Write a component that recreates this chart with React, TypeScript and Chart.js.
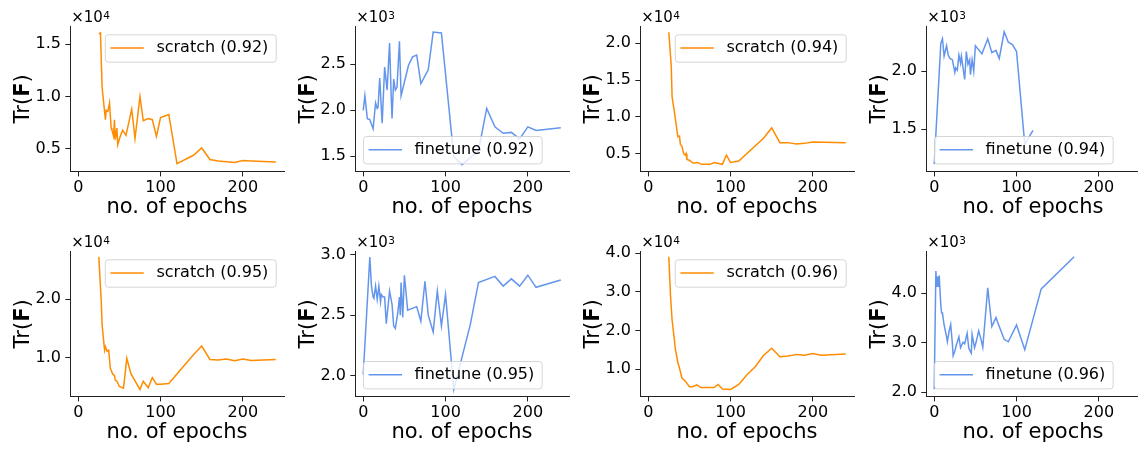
import React, { useEffect, useRef } from "react";
import { Chart, registerables } from "chart.js";

Chart.register(...registerables);

const FONT = "'DejaVu Sans', 'Liberation Sans', sans-serif";
const ORANGE = "#FF8C00";
const BLUE = "#6495ED";

// shared x-axis ticks (epochs)
const xTickValues = [0, 100, 200];

// ---- sparsity 0.92 ----
const scratch092Epochs = [25, 27, 29, 33, 34, 36, 38, 40, 41, 43, 44, 45, 47, 48, 51, 54, 58, 65, 69, 75, 79, 85, 90, 95, 100, 110, 120, 140, 150, 160, 170, 190, 200, 210, 240];
const scratch092Trace = [16000, 16100, 10900, 7800, 8700, 8600, 9400, 7000, 6800, 6200, 7800, 5900, 7000, 5400, 6200, 6800, 6300, 8800, 6000, 10000, 7700, 7900, 7800, 6200, 8000, 8300, 3600, 4400, 5100, 4000, 3850, 3700, 3900, 3850, 3750];
const finetune092Epochs = [0, 2, 5, 8, 12, 15, 17, 18, 20, 23, 26, 29, 32, 34, 35, 37, 39, 41, 44, 46, 55, 60, 65, 70, 79, 85, 95, 110, 120, 140, 150, 160, 170, 180, 190, 200, 210, 240];
const finetune092Trace = [2000, 2160, 1910, 1900, 1800, 2080, 2020, 2030, 2350, 1860, 2470, 2220, 2730, 2150, 1910, 2340, 2220, 2250, 2750, 2160, 2490, 2580, 2600, 2290, 2440, 2850, 2840, 1500, 1410, 1560, 2020, 1820, 1750, 1760, 1690, 1820, 1780, 1810];

// ---- sparsity 0.94 ----
const scratch094Epochs = [25, 28, 29, 32, 34, 36, 38, 39, 41, 43, 45, 46, 47, 50, 55, 60, 65, 75, 80, 90, 95, 100, 110, 140, 150, 160, 170, 180, 190, 200, 240];
const scratch094Trace = [21500, 16800, 12700, 10500, 8900, 7300, 7400, 6300, 6000, 5000, 4800, 5000, 4200, 4100, 3700, 3800, 3550, 3550, 3800, 3550, 4800, 3800, 4000, 7100, 8500, 6500, 6500, 6300, 6400, 6600, 6500];
const finetune094Epochs = [0, 8, 10, 12, 15, 17, 19, 22, 25, 26, 28, 30, 32, 33, 35, 37, 39, 41, 43, 44, 46, 48, 50, 58, 65, 70, 75, 79, 85, 90, 95, 100, 110, 120];
const finetune094Trace = [1200, 2240, 2280, 2130, 2220, 2140, 2110, 2100, 1990, 2030, 2010, 2140, 2070, 2130, 2030, 1930, 2170, 2060, 2100, 1970, 2100, 2000, 2220, 2150, 2280, 2160, 2180, 2110, 2340, 2250, 2230, 2170, 1370, 1490];

// ---- sparsity 0.95 ----
const scratch095Epochs = [25, 28, 29, 32, 33, 35, 37, 39, 42, 44, 45, 47, 50, 55, 59, 64, 75, 79, 85, 90, 95, 100, 110, 140, 150, 160, 170, 180, 190, 200, 210, 240];
const scratch095Trace = [27200, 19500, 15600, 11300, 11900, 11100, 11300, 8200, 7200, 7000, 6200, 6000, 5100, 4800, 9900, 7300, 4600, 6000, 4900, 6600, 5500, 5500, 5600, 10500, 12000, 9700, 9600, 9800, 9500, 9800, 9550, 9700];
const finetune095Epochs = [0, 8, 10, 12, 13, 15, 17, 19, 21, 22, 24, 26, 28, 32, 35, 37, 39, 42, 44, 45, 46, 48, 50, 54, 65, 70, 75, 79, 85, 90, 95, 100, 110, 130, 140, 160, 170, 180, 190, 200, 210, 240];
const finetune095Trace = [2010, 2980, 2740, 2650, 2640, 2740, 2630, 2740, 2610, 2670, 2650, 2650, 2430, 2700, 2590, 2410, 2390, 2520, 2650, 2500, 2770, 2480, 2830, 2540, 2570, 2450, 2780, 2500, 2360, 2700, 2410, 2670, 1885, 2420, 2770, 2820, 2740, 2800, 2740, 2830, 2730, 2790];

// ---- sparsity 0.96 ----
const scratch096Epochs = [25, 27, 29, 32, 33, 36, 38, 41, 43, 46, 50, 54, 59, 64, 75, 80, 85, 90, 100, 110, 120, 130, 140, 150, 160, 170, 180, 190, 200, 210, 240];
const scratch096Trace = [39100, 29200, 22700, 17100, 15100, 11700, 10200, 7600, 7300, 6600, 5400, 5400, 5900, 5200, 5200, 5200, 6000, 4800, 4700, 6000, 8500, 10600, 13500, 15400, 13200, 13400, 13800, 13600, 14000, 13600, 13900];
const finetune096Epochs = [0, 2, 3, 4, 5, 6, 8, 9, 10, 12, 15, 16, 18, 20, 22, 23, 25, 27, 30, 32, 35, 37, 40, 42, 45, 46, 49, 51, 54, 57, 59, 65, 70, 75, 79, 85, 90, 100, 110, 130, 170];
const finetune096Trace = [2060, 4450, 4130, 4340, 4130, 4360, 3760, 3600, 3600, 3360, 3120, 3020, 3230, 3370, 2990, 2740, 2830, 2960, 3120, 2900, 3010, 2980, 3190, 2890, 2790, 3170, 2900, 3020, 3240, 3060, 2910, 4110, 3330, 3510, 3330, 3070, 3020, 3360, 2860, 4090, 4740];

// y-axis ticks per panel
const yTicks092s = [5000, 10000, 15000];
const yTicks092f = [1500, 2000, 2500];
const yTicks094s = [5000, 10000, 15000, 20000];
const yTicks094f = [1500, 2000];
const yTicks095s = [10000, 20000];
const yTicks095f = [2000, 2500, 3000];
const yTicks096s = [10000, 20000, 30000, 40000];
const yTicks096f = [2000, 3000, 4000];

type PanelCfg = {
  label: string;
  xs: number[];
  ys: number[];
  color: string;
  legendLoc: "ur" | "ll";
  yMin: number;
  yMax: number;
  yTicks: number[];
  exp: number;
  col: number;
  row: number;
};

const panels: PanelCfg[] = [
  { label: "scratch (0.92)", xs: scratch092Epochs, ys: scratch092Trace, color: ORANGE, legendLoc: "ur", yMin: 2830, yMax: 16750, yTicks: yTicks092s, exp: 4, col: 0, row: 0 },
  { label: "finetune (0.92)", xs: finetune092Epochs, ys: finetune092Trace, color: BLUE, legendLoc: "ll", yMin: 1333, yMax: 2916, yTicks: yTicks092f, exp: 3, col: 1, row: 0 },
  { label: "scratch (0.94)", xs: scratch094Epochs, ys: scratch094Trace, color: ORANGE, legendLoc: "ur", yMin: 2550, yMax: 22350, yTicks: yTicks094s, exp: 4, col: 2, row: 0 },
  { label: "finetune (0.94)", xs: finetune094Epochs, ys: finetune094Trace, color: BLUE, legendLoc: "ll", yMin: 1135, yMax: 2390, yTicks: yTicks094f, exp: 3, col: 3, row: 0 },
  { label: "scratch (0.95)", xs: scratch095Epochs, ys: scratch095Trace, color: ORANGE, legendLoc: "ur", yMin: 3360, yMax: 28200, yTicks: yTicks095s, exp: 4, col: 0, row: 1 },
  { label: "finetune (0.95)", xs: finetune095Epochs, ys: finetune095Trace, color: BLUE, legendLoc: "ll", yMin: 1826, yMax: 3030, yTicks: yTicks095f, exp: 3, col: 1, row: 1 },
  { label: "scratch (0.96)", xs: scratch096Epochs, ys: scratch096Trace, color: ORANGE, legendLoc: "ur", yMin: 2830, yMax: 40600, yTicks: yTicks096s, exp: 4, col: 2, row: 1 },
  { label: "finetune (0.96)", xs: finetune096Epochs, ys: finetune096Trace, color: BLUE, legendLoc: "ll", yMin: 1910, yMax: 4856, yTicks: yTicks096f, exp: 3, col: 3, row: 1 },
];

const COL_LEFT = [0, 285, 570, 856];
const ROW_TOP = [0, 225];
const CANVAS_W = 285;
const CANVAS_H = 225;

const decorPlugin = {
  id: "decor",
  afterDatasetsDraw(chart: any, _args: any, opts: any) {
    const ctx: CanvasRenderingContext2D = chart.ctx;
    const a = chart.chartArea;
    // legend box
    ctx.save();
    ctx.font = `16px ${FONT}`;
    const tw = ctx.measureText(opts.label).width;
    const w = 5.6 + 33.4 + 12.6 + tw + 7.4;
    const h = 27.4;
    let bx: number, by: number;
    if (opts.legendLoc === "ur") {
      bx = a.right - 8.3 - w;
      by = a.top + 8.3;
    } else {
      bx = a.left + 8;
      by = a.bottom - 8.3 - h;
    }
    ctx.beginPath();
    (ctx as any).roundRect(bx + 0.5, by + 0.5, w, h, 3);
    ctx.fillStyle = "rgba(255,255,255,0.8)";
    ctx.fill();
    ctx.strokeStyle = "rgba(204,204,204,0.8)";
    ctx.lineWidth = 1;
    ctx.stroke();
    const cy = by + h / 2;
    ctx.beginPath();
    ctx.moveTo(bx + 5.6, cy);
    ctx.lineTo(bx + 39, cy);
    ctx.strokeStyle = opts.color;
    ctx.lineWidth = 1.5;
    ctx.stroke();
    ctx.fillStyle = "#000";
    ctx.textAlign = "left";
    ctx.textBaseline = "middle";
    ctx.fillText(opts.label, bx + 51.6, cy);
    ctx.restore();
  },
  afterDraw(chart: any, _args: any, opts: any) {
    const ctx: CanvasRenderingContext2D = chart.ctx;
    const a = chart.chartArea;
    ctx.save();
    ctx.fillStyle = "#000";
    ctx.textBaseline = "alphabetic";
    ctx.textAlign = "left";
    // offset text ×10^n
    ctx.font = `15px ${FONT}`;
    const base = "\u00d710";
    ctx.fillText(base, a.left + 1.2, a.top - 3.7);
    const bw = ctx.measureText(base).width;
    ctx.font = `10.5px ${FONT}`;
    ctx.fillText(String(opts.exp), a.left + 1.2 + bw + 0.5, a.top - 7.3);
    // y title Tr(F) with bold F
    ctx.translate(29, (a.top + a.bottom) / 2);
    ctx.rotate(-Math.PI / 2);
    const fN = `21px ${FONT}`;
    const fB = `bold 21px ${FONT}`;
    ctx.font = fN;
    const w1 = ctx.measureText("Tr(").width;
    const w3 = ctx.measureText(")").width;
    ctx.font = fB;
    const w2 = ctx.measureText("F").width;
    let x = -(w1 + w2 + w3) / 2;
    ctx.font = fN;
    ctx.fillText("Tr(", x, 0);
    x += w1;
    ctx.font = fB;
    ctx.fillText("F", x, 0);
    x += w2;
    ctx.font = fN;
    ctx.fillText(")", x, 0);
    ctx.restore();
  },
};

function PanelChart({ cfg }: { cfg: PanelCfg }) {
  const ref = useRef<HTMLCanvasElement | null>(null);
  useEffect(() => {
    if (!ref.current) return;
    const pow = Math.pow(10, cfg.exp);
    const chart = new Chart(ref.current, {
      type: "line",
      data: {
        datasets: [
          {
            label: cfg.label,
            data: cfg.xs.map((xv, i) => ({ x: xv, y: cfg.ys[i] })),
            borderColor: cfg.color,
            backgroundColor: cfg.color,
            borderWidth: 1.5,
            pointRadius: 0,
            tension: 0,
            fill: false,
          },
        ],
      },
      options: {
        animation: false,
        responsive: false,
        devicePixelRatio: 1,
        events: [],
        layout: { padding: { top: 26, right: 1, left: 0, bottom: 0 } },
        plugins: {
          legend: { display: false },
          tooltip: { enabled: false },
          decor: { label: cfg.label, legendLoc: cfg.legendLoc, color: cfg.color, exp: cfg.exp },
        } as any,
        scales: {
          x: {
            type: "linear",
            min: -10,
            max: 250,
            afterBuildTicks: (s: any) => {
              s.ticks = xTickValues.map((v) => ({ value: v }));
            },
            afterFit: (s: any) => {
              s.height = 53.3;
            },
            ticks: {
              autoSkip: false,
              maxRotation: 0,
              color: "#000",
              padding: 1.5,
              font: { family: FONT, size: 16 },
              callback: (v: any) => String(v),
            },
            grid: {
              display: true,
              drawOnChartArea: false,
              drawTicks: true,
              tickLength: 4.7,
              tickWidth: 1,
              tickColor: "#222",
            },
            border: { display: true, color: "#222", width: 1 },
            title: {
              display: true,
              text: "no. of epochs",
              color: "#000",
              font: { family: FONT, size: 21 },
              padding: { top: 0, bottom: 4.7 },
            },
          },
          y: {
            type: "linear",
            min: cfg.yMin,
            max: cfg.yMax,
            afterBuildTicks: (s: any) => {
              s.ticks = cfg.yTicks.map((v) => ({ value: v }));
            },
            afterFit: (s: any) => {
              s.width = 70;
            },
            ticks: {
              autoSkip: false,
              color: "#000",
              padding: 4.3,
              font: { family: FONT, size: 16 },
              callback: (v: any) => (Number(v) / pow).toFixed(1),
            },
            grid: {
              display: true,
              drawOnChartArea: false,
              drawTicks: true,
              tickLength: 4.7,
              tickWidth: 1,
              tickColor: "#222",
            },
            border: { display: true, color: "#222", width: 1 },
            title: { display: false },
          },
        },
      } as any,
      plugins: [decorPlugin as any],
    });
    return () => chart.destroy();
  }, [cfg]);
  return (
    <canvas
      ref={ref}
      width={CANVAS_W}
      height={CANVAS_H}
      style={{
        position: "absolute",
        left: COL_LEFT[cfg.col],
        top: ROW_TOP[cfg.row],
        width: CANVAS_W,
        height: CANVAS_H,
      }}
    />
  );
}

export default function App() {
  return (
    <div
      style={{
        position: "fixed",
        left: 0,
        top: 0,
        width: 1138,
        height: 450,
        overflow: "hidden",
        background: "#fff",
      }}
    >
      {panels.map((p, i) => (
        <PanelChart key={i} cfg={p} />
      ))}
    </div>
  );
}
